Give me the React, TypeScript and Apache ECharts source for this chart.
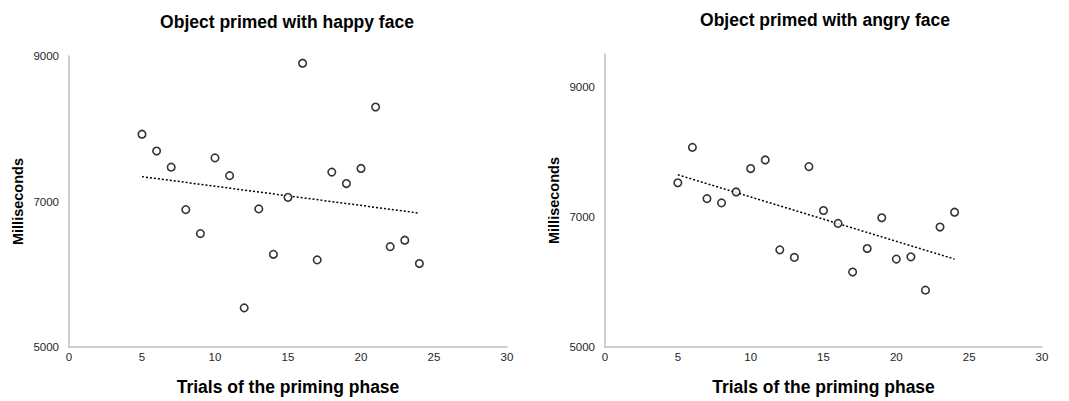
import React, { useEffect, useRef } from "react";
import * as echarts from "echarts";

const trials = [5, 6, 7, 8, 9, 10, 11, 12, 13, 14, 15, 16, 17, 18, 19, 20, 21, 22, 23, 24];
const happyMs = [7925, 7694, 7472, 6889, 6559, 7599, 7355, 5538, 6898, 6274, 7057, 8901, 6197, 7404, 7247, 7454, 8299, 6379, 6468, 6148];
const angryMs = [7523, 8066, 7279, 7213, 7381, 7741, 7873, 6492, 6376, 7771, 7096, 6898, 6152, 6513, 6985, 6350, 6385, 5873, 6842, 7070];
const trendX = [5, 24];
const happyTrend = [7342, 6840];
const angryTrend = [7645, 6350];
const titles = ["Object primed with happy face", "Object primed with angry face"];
const xName = "Trials of the priming phase";
const yName = "Milliseconds";

const FONT = "Liberation Sans, Arial, sans-serif";

export default function App() {
  const ref = useRef<HTMLDivElement>(null);
  useEffect(() => {
    if (!ref.current) return;
    const chart = echarts.init(ref.current, null, { renderer: "svg" });
    const pairs = (xs: number[], ys: number[]) => xs.map((x, i) => [x, ys[i]]);
    const xAxisBase = (gridIndex: number) => ({
      type: "value",
      gridIndex,
      min: 0,
      max: 30,
      interval: 5,
      name: xName,
      nameLocation: "middle",
      nameGap: 31,
      nameTextStyle: { fontFamily: FONT, fontWeight: "bold", fontSize: 17.5, color: "#000" },
      axisLine: { show: true, lineStyle: { color: "#bfbfbf", width: 1.5 } },
      axisTick: { show: false },
      splitLine: { show: false },
      axisLabel: { fontFamily: FONT, fontSize: 11.5, color: "#262626", margin: 4, formatter: (v: number) => String(v) },
    });
    const yAxisBase = (gridIndex: number, max: number) => ({
      type: "value",
      gridIndex,
      min: 5000,
      max,
      interval: 2000,
      name: yName,
      nameLocation: "middle",
      nameGap: 44,
      nameRotate: 90,
      nameTextStyle: { fontFamily: FONT, fontWeight: "bold", fontSize: 14.5, color: "#000" },
      axisLine: { show: true, lineStyle: { color: "#bfbfbf", width: 1.5 } },
      axisTick: { show: false },
      splitLine: { show: false },
      axisLabel: {
        fontFamily: FONT,
        fontSize: 11.5,
        color: "#262626",
        margin: 10,
        showMaxLabel: max === 9000,
        formatter: (v: number) => String(v),
      },
    });
    const scatter = (idx: number, ys: number[]) => ({
      type: "scatter",
      xAxisIndex: idx,
      yAxisIndex: idx,
      data: pairs(trials, ys),
      symbol: "circle",
      symbolSize: 7.5,
      itemStyle: { color: "#fff", borderColor: "#000", borderWidth: 1.6 },
      z: 3,
    });
    const trend = (idx: number, ys: number[]) => ({
      type: "line",
      xAxisIndex: idx,
      yAxisIndex: idx,
      data: pairs(trendX, ys),
      symbol: "none",
      lineStyle: { color: "#000", width: 1.5, type: [2, 2] },
      z: 2,
    });
    chart.setOption({
      animation: false,
      backgroundColor: "#fff",
      title: [
        { text: titles[0], left: 282, top: 8, textAlign: "center", textStyle: { fontFamily: FONT, fontWeight: "bold", fontSize: 17.5, color: "#000" } },
        { text: titles[1], left: 820, top: 6, textAlign: "center", textStyle: { fontFamily: FONT, fontWeight: "bold", fontSize: 17.5, color: "#000" } },
      ],
      grid: [
        { left: 69, top: 56, width: 438, height: 295 },
        { left: 605, top: 54, width: 437, height: 295 },
      ],
      xAxis: [xAxisBase(0), xAxisBase(1)],
      yAxis: [yAxisBase(0, 9000), yAxisBase(1, 9500)],
      series: [scatter(0, happyMs), trend(0, happyTrend), scatter(1, angryMs), trend(1, angryTrend)],
    });
    return () => chart.dispose();
  }, []);
  return <div ref={ref} style={{ position: "fixed", left: 0, top: 0, width: 1069, height: 401 }} />;
}
